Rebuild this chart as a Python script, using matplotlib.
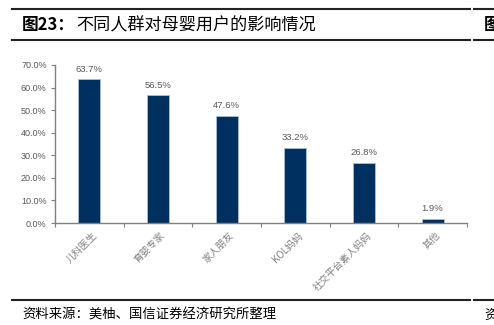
import matplotlib.pyplot as plt
from matplotlib.lines import Line2D
from matplotlib.ticker import MultipleLocator, FuncFormatter

plt.rcParams['font.family'] = ['Noto Sans CJK SC', 'DejaVu Sans']

# 数据
groups = ['儿科医生', '育婴专家', '家人朋友', 'KOL妈妈', '社交平台素人妈妈', '其他']
shares = [63.7, 56.5, 47.6, 33.2, 26.8, 1.9]

bar_color = '#00305f'
axis_gray = '#808080'
text_gray = '#595959'

fig = plt.figure(figsize=(4.94, 3.25), dpi=100)
ax = fig.add_axes([0.1113, 0.3138, 0.834, 0.4862])

x = list(range(len(groups)))
ax.bar(x, shares, width=0.32, color=bar_color, edgecolor='#a9bfd6', linewidth=0.6)
for xi, v in zip(x, shares):
    ax.text(xi, v + 2.5, f'{v:.1f}%', ha='center', va='bottom', fontsize=6.8,
            color=text_gray, family='Liberation Sans')

ax.set_xlim(-0.5, len(groups) - 0.5)
ax.set_ylim(0, 70)
ax.yaxis.set_major_locator(MultipleLocator(10))
ax.yaxis.set_major_formatter(FuncFormatter(lambda v, p: f'{v:.1f}%'))
for lab in ax.get_yticklabels():
    lab.set_family('Liberation Sans')
ax.tick_params(axis='y', labelsize=6.5, colors=axis_gray, labelcolor=text_gray,
               length=3, width=0.8, direction='out', pad=3)

# x 轴刻度放在类别之间
ax.set_xticks([i - 0.5 for i in range(len(groups) + 1)])
ax.set_xticklabels([])
ax.tick_params(axis='x', length=3, width=0.8, colors=axis_gray, direction='out')
for xi, name in zip(x, groups):
    ax.text(xi + 0.03, -3.2, name, rotation=45, ha='right', va='top',
            rotation_mode='anchor', fontsize=7, color='#808080')

for side in ['top', 'right']:
    ax.spines[side].set_visible(False)
for side in ['left', 'bottom']:
    ax.spines[side].set_color(axis_gray)
    ax.spines[side].set_linewidth(1.0)

# 标题与来源
W, H = 494, 325
def hline(y, x0, x1, lw=1.5):
    fig.add_artist(Line2D([x0 / W, x1 / W], [1 - y / H, 1 - y / H],
                          color='#222222', linewidth=lw, transform=fig.transFigure))

for yy in (9, 40, 300):
    hline(yy, 12, 470)
    hline(yy, 474, 494)

fig.text(22 / W, 1 - 25 / H, '图23：', fontsize=12, weight='bold', va='center', ha='left')
fig.text(76 / W, 1 - 25 / H, '不同人群对母婴用户的影响情况', fontsize=12.3, va='center', ha='left')
fig.text(484 / W, 1 - 25 / H, '图', fontsize=12, weight='bold', va='center', ha='left')
fig.text(22 / W, 1 - 315 / H, '资料来源：美柚、国信证券经济研究所整理', fontsize=9.6,
         va='center', ha='left')
fig.text(484 / W, 1 - 315 / H, '资', fontsize=9.6, va='center', ha='left')

fig.savefig('out.png', dpi=100)
